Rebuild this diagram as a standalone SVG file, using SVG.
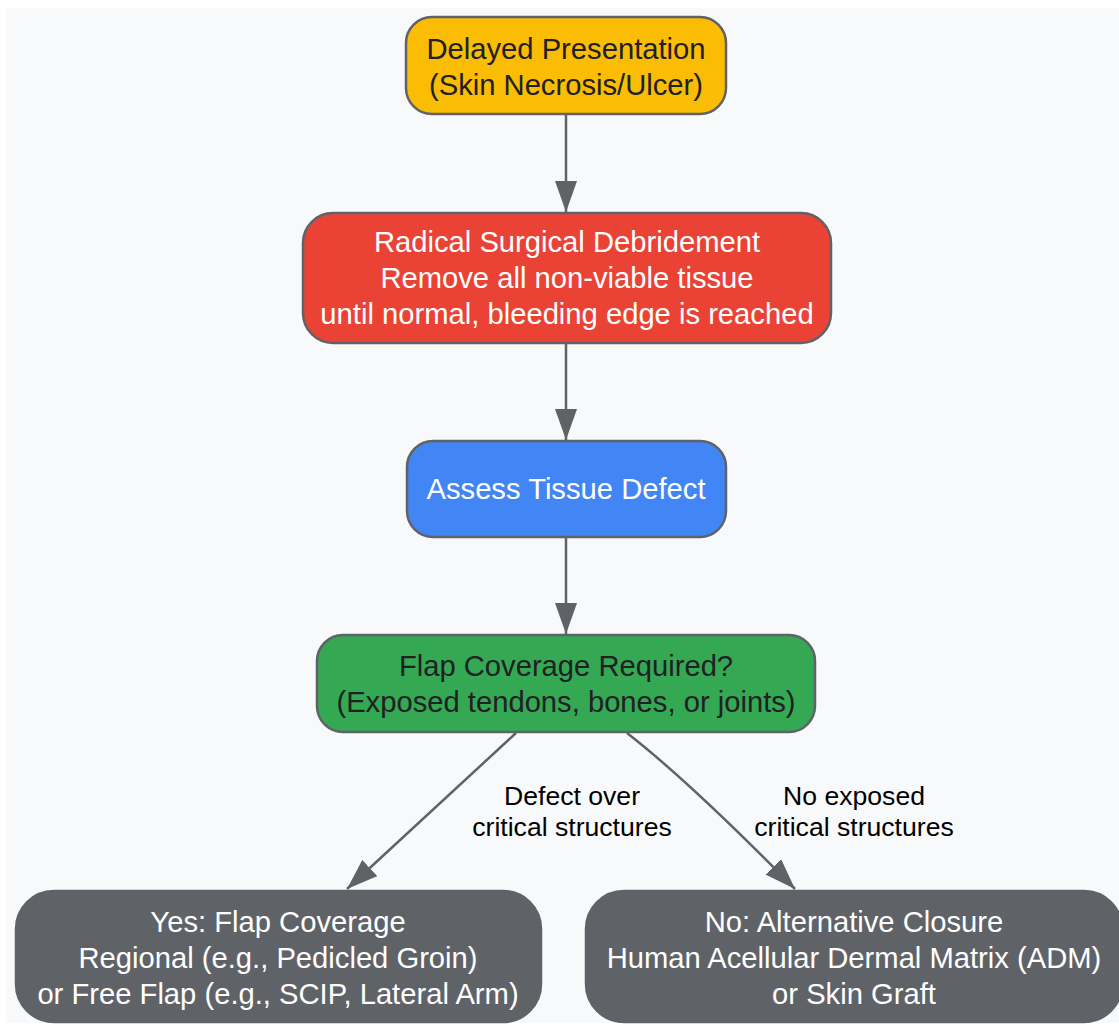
<svg xmlns="http://www.w3.org/2000/svg" width="1119" height="1027" viewBox="0 0 1119 1027">
<style>
.n{stroke:#5f6368;stroke-width:2.5}
.t{font-family:"Liberation Sans",Arial,sans-serif;font-size:29.2px;text-anchor:middle}
.lbl{font-family:"Liberation Sans",Arial,sans-serif;font-size:26.6px;text-anchor:middle;fill:#000}
.dk{fill:#202124}
.wt{fill:#ffffff}
.e{fill:none;stroke:#5f6368;stroke-width:2.5}
</style>
<defs>
<marker id="ah" markerUnits="userSpaceOnUse" viewBox="0 0 31 22" markerWidth="31" markerHeight="22" refX="31" refY="11" orient="auto">
<path d="M0,0 L31,11 L0,22 z" fill="#5f6368"/>
</marker>
</defs>
<rect x="0" y="0" width="1119" height="1027" fill="#ffffff"/>
<rect x="6" y="8" width="1113" height="1015" fill="#f8f9fa"/>
<g id="connectors">
<path class="e" d="M566,114 L566,212" marker-end="url(#ah)"/>
<path class="e" d="M566,343 L566,440" marker-end="url(#ah)"/>
<path class="e" d="M566,537 L566,634" marker-end="url(#ah)"/>
<path class="e" d="M516,733 L347,889" marker-end="url(#ah)"/>
<path class="e" d="M627,733 Q690,782 795,889" marker-end="url(#ah)"/>
<text class="lbl" x="572" y="805">Defect over</text>
<text class="lbl" x="572" y="836">critical structures</text>
<text class="lbl" x="854" y="805">No exposed</text>
<text class="lbl" x="854" y="836">critical structures</text>
</g>
<g id="node-delayed">
<rect class="n" x="406" y="17" width="320" height="97" rx="26" fill="#fbbc04"/>
<text class="t dk" x="566" y="58.5">Delayed Presentation</text>
<text class="t dk" x="566" y="94.5">(Skin Necrosis/Ulcer)</text>
</g>
<g id="node-debridement">
<rect class="n" x="303" y="213" width="528" height="130" rx="30" fill="#ea4335"/>
<text class="t wt" x="567" y="252">Radical Surgical Debridement</text>
<text class="t wt" x="567" y="288">Remove all non-viable tissue</text>
<text class="t wt" x="567" y="324">until normal, bleeding edge is reached</text>
</g>
<g id="node-assess">
<rect class="n" x="407" y="441" width="319" height="96" rx="26" fill="#4285f4"/>
<text class="t wt" x="566" y="499">Assess Tissue Defect</text>
</g>
<g id="node-flap-decision">
<rect class="n" x="317" y="635" width="498" height="97" rx="26" fill="#34a853"/>
<text class="t dk" x="566" y="676">Flap Coverage Required?</text>
<text class="t dk" x="566" y="712">(Exposed tendons, bones, or joints)</text>
</g>
<g id="node-yes">
<rect class="n" x="16" y="891" width="525" height="131" rx="38" fill="#5f6368"/>
<text class="t wt" x="278" y="931.5">Yes: Flap Coverage</text>
<text class="t wt" x="278" y="967.5">Regional (e.g., Pedicled Groin)</text>
<text class="t wt" x="278" y="1003.5">or Free Flap (e.g., SCIP, Lateral Arm)</text>
</g>
<g id="node-no">
<rect class="n" x="586" y="891" width="536" height="131" rx="38" fill="#5f6368"/>
<text class="t wt" x="854" y="931.5">No: Alternative Closure</text>
<text class="t wt" x="854" y="967.5">Human Acellular Dermal Matrix (ADM)</text>
<text class="t wt" x="854" y="1003.5">or Skin Graft</text>
</g>
</svg>
